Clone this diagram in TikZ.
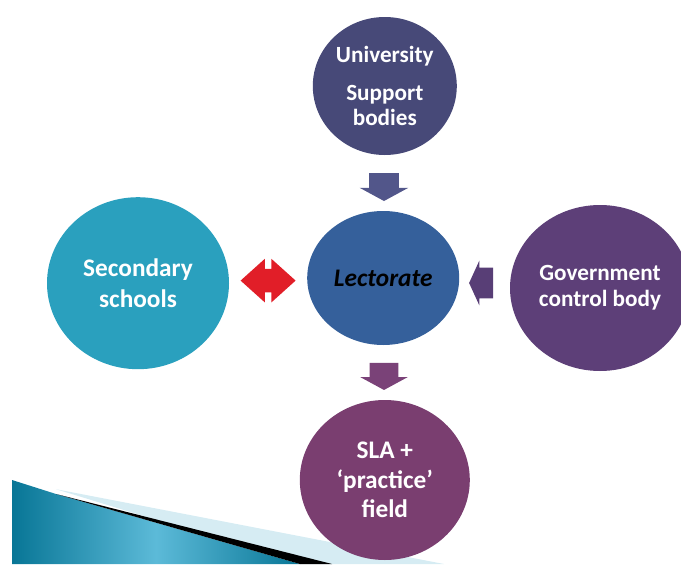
\documentclass[tikz,border=0pt]{standalone}
\usepackage{fontspec}
\setmainfont{Carlito}
\usetikzlibrary{shapes.geometric,shapes.arrows,calc}

\definecolor{unicol}{RGB}{71,73,120}
\definecolor{unarrow}{RGB}{82,86,138}
\definecolor{lectcol}{RGB}{53,96,155}
\definecolor{seccol}{RGB}{42,160,190}
\definecolor{govcol}{RGB}{93,63,120}
\definecolor{govarrow}{RGB}{88,62,118}
\definecolor{slacol}{RGB}{122,62,112}
\definecolor{slaarrow}{RGB}{122,66,120}
\definecolor{redarrow}{RGB}{225,30,40}
\definecolor{bandlight}{RGB}{214,236,243}
\definecolor{banddark}{RGB}{8,118,150}
\definecolor{bandmid}{RGB}{92,186,216}

\tikzset{
    bubble/.style={ellipse,inner sep=0pt,text=white,align=center,font=\bfseries},
    downarrow/.style={single arrow,inner xsep=0pt,rotate=-90,
        single arrow head extend=0.24cm,single arrow tip angle=123}
}

\begin{document}
\begin{tikzpicture}
    \useasboundingbox (0,0) rectangle (17.025,14.1);
    \clip (0,0) rectangle (17.025,14.1);

    % slide corner
    \fill[bandlight] (1.4,1.87) -- (11.1,0) -- (7.5,0) -- cycle;
    \shade[left color=banddark,right color=banddark,middle color=bandmid]
        (0.3,2.1) -- (1.4,1.75) -- (7.5,0) -- (0.3,0) -- cycle;
    \fill[black] (1.4,1.75) -- (8.3,0) -- (7.5,0) -- cycle;

    \node[bubble,fill=unicol,minimum width=3.6cm,minimum height=3.45cm,
        font=\bfseries\fontsize{16.5}{17.7}\selectfont] (uni) at (9.62,11.95)
        {University\\[0.33cm]Support\\bodies};
    \node[bubble,fill=lectcol,minimum width=3.8cm,minimum height=3.35cm,text=black,
        font=\bfseries\itshape\fontsize{18}{20}\selectfont] (lect) at (9.58,7.15) {Lectorate};
    \node[bubble,fill=seccol,minimum width=4.55cm,minimum height=4.3cm,
        font=\bfseries\fontsize{18}{22}\selectfont] (sec) at (3.45,7.02) {Secondary\\schools};
    \node[bubble,fill=govcol,minimum width=4.5cm,minimum height=4.15cm,
        font=\bfseries\fontsize{16.5}{18.5}\selectfont] (gov) at (15.0,6.9) {Government\\control body};
    \node[bubble,fill=slacol,minimum width=4.25cm,minimum height=4cm,
        font=\bfseries\fontsize{18}{21}\selectfont] (sla) at (9.62,2.1) {SLA +\\`practice'\\field};

    \node[downarrow,fill=unarrow,inner ysep=0.3625cm,minimum height=0.7cm] (a1)
        at ($(uni.south)!0.5!(lect.north)$) {};
    \node[downarrow,fill=slaarrow,inner ysep=0.35cm,minimum height=0.68cm] (a2)
        at ($(lect.south)!0.5!(sla.north)$) {};
    \node[single arrow,inner xsep=0pt,inner ysep=0.375cm,rotate=180,fill=govarrow,minimum height=0.6cm,
        single arrow head extend=0.175cm,single arrow tip angle=131] (a3) at ($(lect.east)!0.5!(gov.west)$) {};
    \node[double arrow,inner xsep=0pt,inner ysep=0.2875cm,fill=redarrow,minimum height=1.375cm,
        double arrow head extend=0.25cm,double arrow tip angle=84] (a4) at ($(sec.east)!0.5!(lect.west)$) {};
\end{tikzpicture}
\end{document}
